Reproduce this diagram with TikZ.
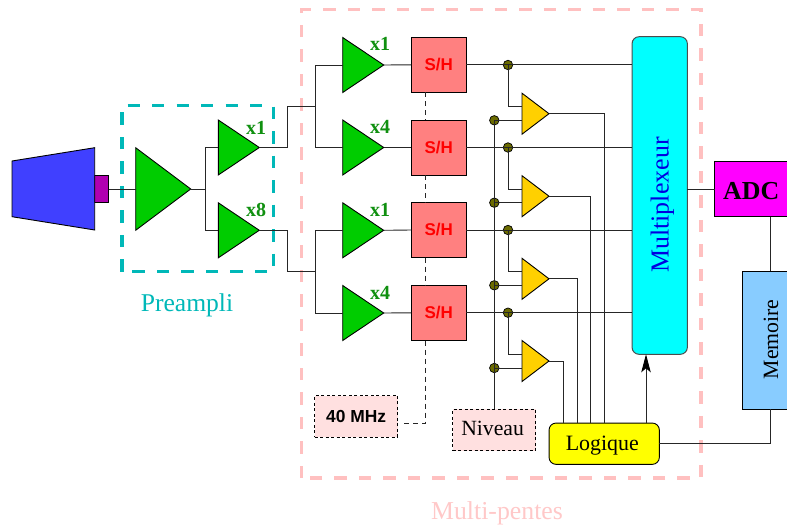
\documentclass[tikz,border=0pt]{standalone}
\usepackage{fontspec}
\setmainfont{Liberation Serif}
\newfontfamily\hv{Liberation Sans}
\usetikzlibrary{shapes.geometric,arrows.meta,calc}
\definecolor{ampgreen}{HTML}{00CC00}
\definecolor{gaingreen}{HTML}{109010}
\definecolor{teal2}{HTML}{00B8B8}
\definecolor{pinkd}{HTML}{FFC0C0}
\definecolor{pinkt}{HTML}{FFC8C8}
\definecolor{shfill}{HTML}{FF8080}
\definecolor{clkfill}{HTML}{FFE0E0}
\definecolor{cmpfill}{HTML}{FFD000}
\definecolor{dotfill}{HTML}{6B6B00}
\definecolor{memfill}{HTML}{88CCFF}
\definecolor{muxtext}{HTML}{0000E0}
\definecolor{bluesens}{HTML}{4040FF}
\definecolor{purp}{HTML}{B000B0}
\definecolor{muxfill}{HTML}{00FFFF}
\definecolor{adcfill}{HTML}{FF00FF}
\definecolor{logfill}{HTML}{FFFF00}
\tikzset{
  wire/.style={line width=0.9pt,draw=black!85},
  clk/.style={line width=0.9pt,draw=black!85,dash pattern=on 5pt off 4pt},
  amp/.style={isosceles triangle,isosceles triangle stretches,shape border rotate=0,draw=black,line width=0.9pt,inner sep=0pt,outer sep=0pt,anchor=lower side},
  bigamp/.style={amp,fill=ampgreen,minimum width=82.5pt,minimum height=55pt},
  gainamp/.style={amp,fill=ampgreen,minimum width=55pt,minimum height=41pt},
  cmpamp/.style={amp,fill=cmpfill,minimum width=41pt,minimum height=27pt},
  gain/.style={anchor=base,text=gaingreen,font=\fontsize{20}{24}\selectfont\bfseries},
  shbox/.style={draw=black,line width=0.9pt,fill=shfill,minimum width=55pt,minimum height=55pt,inner sep=0pt,outer sep=0pt,text=red,font=\hv\fontsize{17}{20}\selectfont\bfseries},
  srcbox/.style={draw=black,dash pattern=on 3pt off 2.5pt,line width=0.9pt,fill=clkfill,minimum width=83pt,minimum height=41.3pt,inner sep=0pt,outer sep=0pt},
  jdot/.style={circle,draw=black,line width=0.7pt,fill=dotfill,minimum size=9.5pt,inner sep=0pt,outer sep=0pt},
  region/.style={line width=3.4pt,dash pattern=on 12.3pt off 12.2pt},
}
\begin{document}
\begin{tikzpicture}[x=1pt,y=-1pt]
\clip (0,0) rectangle (787,525);
% regions
\draw[region,draw=pinkd] (301.5,478) -- (301.5,9.7) -- (701,9.7) -- (701,478) -- cycle;
\node[anchor=base,text=pinkt,font=\fontsize{25.8}{30}\selectfont] (multilabel) at (497,519) {Multi-pentes};
\draw[region,draw=teal2] (122,271.7) -- (122,105.7) -- (273.5,105.7) -- (273.5,271.7) -- cycle;
\node[anchor=base,text=teal2,font=\fontsize{25.6}{30}\selectfont] (prelabel) at (187,311) {Preampli};
% detector
\node[draw=black,line width=0.9pt,fill=purp,minimum width=13.8pt,minimum height=27.7pt,inner sep=0pt,outer sep=0pt] (pad) at (101.6,189) {};
\draw[line width=0.9pt,fill=bluesens] (12,161) -- (94.7,147.7) -- (94.7,230) -- (12,216.7) -- cycle;
% preamp
\node[bigamp] (main) at (135.7,189) {};
\node[gainamp] (pa) at (218.3,147.5) {};
\node[gainamp] (pb) at (218.3,230.3) {};
\node[gain] (gpa) at (256,134.3) {x1};
\node[gain] (gpb) at (256,216) {x8};
% gain stages
\node[gainamp] (a1) at (342.7,65) {};
\node[gainamp] (a2) at (342.7,147.5) {};
\node[gainamp] (a3) at (342.7,230.3) {};
\node[gainamp] (a4) at (342.7,313) {};
\node[gain] (g1) at (380,50.7) {x1};
\node[gain] (g2) at (380,133.3) {x4};
\node[gain] (g3) at (380,216) {x1};
\node[gain] (g4) at (380,299) {x4};
% S/H
\node[shbox] (s1) at (438.8,64.8) {S/H};
\node[shbox] (s2) at (438.8,147.5) {S/H};
\node[shbox] (s3) at (438.8,230) {S/H};
\node[shbox] (s4) at (438.8,312.8) {S/H};
% sources
\node[srcbox,font=\hv\fontsize{17.4}{20}\selectfont\bfseries] (clock) at (356.2,416.3) {40 MHz};
\node[srcbox] (niveau) at (494.2,430) {};
\node[font=\fontsize{21.7}{26}\selectfont] (niveaulabel) at (492.6,428) {Niveau};
% comparators
\node[cmpamp] (c1) at (522,113.7) {};
\node[cmpamp] (c2) at (522,196.2) {};
\node[cmpamp] (c3) at (522,278.8) {};
\node[cmpamp] (c4) at (522,361) {};
% junctions
\node[jdot] (u1) at (508,65) {};
\node[jdot] (u2) at (508,147.5) {};
\node[jdot] (u3) at (508,230) {};
\node[jdot] (u4) at (508,312.7) {};
\node[jdot] (v1) at (494.3,120.3) {};
\node[jdot] (v2) at (494.3,202.7) {};
\node[jdot] (v3) at (494.3,285.3) {};
\node[jdot] (v4) at (494.3,368) {};
% right blocks
\node[draw=black!70,line width=1pt,fill=muxfill,rounded corners=7pt,minimum width=55.3pt,minimum height=317.6pt,inner sep=0pt,outer sep=0pt] (mux) at (659.7,195.5) {};
\node[rotate=90,text=muxtext,font=\fontsize{25.9}{30}\selectfont] (muxlabel) at (662.5,205) {Multiplexeur};
\node[draw=black,line width=0.9pt,fill=logfill,rounded corners=7pt,minimum width=110.3pt,minimum height=41.3pt,inner sep=0pt,outer sep=0pt] (logic) at (604.2,443.7) {};
\node[font=\fontsize{21.9}{26}\selectfont] (logiclabel) at (602.3,445.5) {Logique};
\node[draw=black,line width=0.9pt,fill=adcfill,minimum width=75pt,minimum height=55.4pt,inner sep=0pt,outer sep=0pt] (adc) at (752.2,189) {};
\node[font=\fontsize{25.9}{30}\selectfont\bfseries] (adclabel) at (751.2,191) {ADC};
\node[draw=black,line width=0.9pt,fill=memfill,minimum width=56pt,minimum height=137.7pt,inner sep=0pt,outer sep=0pt] (mem) at (770,340.2) {};
\node[rotate=90,font=\fontsize{21.8}{26}\selectfont] (memlabel) at (771,339.3) {Memoire};
% named bends
\coordinate (bus1) at (287.5,106);
\coordinate (bus2) at (287.5,271.7);
% wires
\draw[wire] (pad.east) -- (main.lower side);
\draw[wire] (main.apex) -- (205,189);
\draw[wire] (pa.lower side) -- (205,147.5) -- (205,230.3) -- (pb.lower side);
\draw[wire] (pa.apex) -| (bus1) -- (315.3,106);
\draw[wire] (pb.apex) -| (bus2) -- (315.3,271.7);
\draw[wire] (a1.lower side) -| (315.3,106) |- (a2.lower side);
\draw[wire] (a3.lower side) -| (315.3,271.7) |- (a4.lower side);
\draw[wire] (a1.apex) -- (s1.west);
\draw[wire] (a2.apex) -- (s2.west);
\draw[wire] (a3.apex) -- (s3.west);
\draw[wire] (a4.apex) -- (s4.west);
\draw[wire] (s1.east) -- (s1.east -| mux.west);
\draw[wire] (s2.east) -- (s2.east -| mux.west);
\draw[wire] (s3.east) -- (s3.east -| mux.west);
\draw[wire] (s4.east) -- (s4.east -| mux.west);
\draw[wire] (u1.center) |- (522,106.3);
\draw[wire] (u2.center) |- (522,189);
\draw[wire] (u3.center) |- (522,271.7);
\draw[wire] (u4.center) |- (522,354.3);
\draw[wire] (v1.center) -- (522,120.3);
\draw[wire] (v2.center) -- (522,202.7);
\draw[wire] (v3.center) -- (522,285.3);
\draw[wire] (v4.center) -- (522,368);
\draw[wire] (niveau.north -| v1) -- (v1.center);
\draw[wire] (c1.apex) -| (604.7,423);
\draw[wire] (c2.apex) -| (590.8,423);
\draw[wire] (c3.apex) -| (577,423);
\draw[wire] (c4.apex) -| (563.3,423);
\draw[wire,-{Stealth[length=18pt,width=9.5pt,inset=4pt,black]}] (646,423) -- (646,354.3);
\draw[wire] (mux.east |- adc.west) -- (adc.west);
\draw[wire] (mem.north) -- (mem.north |- adc.south);
\draw[wire] (mem.south) |- (logic.east);
\draw[clk] (425.3,92.3) -- (425.3,120);
\draw[clk] (425.3,175) -- (425.3,202.3);
\draw[clk] (425.3,257.5) -- (425.3,285);
\draw[clk] (425.3,340.5) -- (425.3,423) -- (404,423);
\end{tikzpicture}
\end{document}
